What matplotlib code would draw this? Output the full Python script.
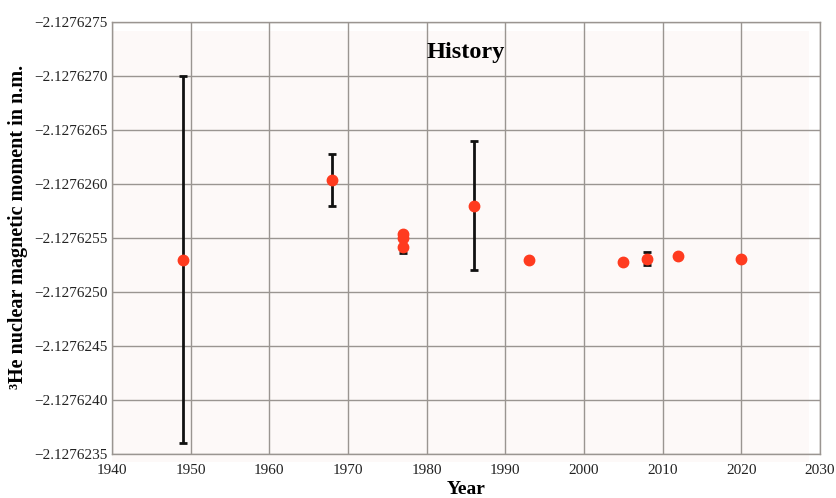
import matplotlib
matplotlib.use('Agg')
import matplotlib.pyplot as plt
from matplotlib.patches import Rectangle
from matplotlib.ticker import FuncFormatter, MultipleLocator

# measurement history of the 3He nuclear magnetic moment
years = [1949, 1968, 1977, 1977, 1977, 1986, 1993, 2005, 2008, 2012, 2020]
moments = [-2.1276253, -2.12762604, -2.12762554, -2.1276255, -2.12762542,
           -2.1276258, -2.1276253, -2.12762528, -2.12762531, -2.12762533,
           -2.12762531]
errors = [17e-7, 2.4e-7, 0, 0, 0.6e-7, 6.0e-7, 0, 0, 0.6e-7, 0, 0]

plt.rcParams['font.family'] = ['Liberation Serif', 'DejaVu Serif']

fig = plt.figure(figsize=(8.37, 4.98), dpi=100)
ax = fig.add_axes([112 / 837, 44 / 498, 708 / 837, 432 / 498])

# faint shaded plot area, slightly offset
bg = Rectangle((0, -0.018), 0.984, 0.997, transform=ax.transAxes,
               facecolor='#fdf9f8', edgecolor='none', zorder=0, clip_on=False)
ax.add_patch(bg)
ax.set_facecolor('none')

# error bars first, then markers on top
for x, y, e in zip(years, moments, errors):
    if e > 0:
        ax.errorbar(x, y, yerr=e, fmt='none', ecolor='#111111', elinewidth=2,
                    capsize=3, capthick=2, zorder=3)
ax.plot(years, moments, 'o', color='#ff3b1f', markersize=7.5, zorder=4)

ax.set_xlim(1940, 2030)
ax.set_ylim(-2.1276235, -2.1276275)
ax.xaxis.set_major_locator(MultipleLocator(10))
ax.yaxis.set_major_locator(MultipleLocator(5e-7))
ax.yaxis.set_major_formatter(FuncFormatter(lambda v, p: f"{v:.7f}".replace('-', '\u2212')))

ax.grid(True, color='#9a9591', linewidth=1)
ax.set_axisbelow(True)
for s in ax.spines.values():
    s.set_color('#9a9591')
    s.set_linewidth(1)
ax.tick_params(length=0, labelsize=11, colors='#222222')
ax.tick_params(axis='x', pad=7)
ax.tick_params(axis='y', pad=3)

ax.text(0.5, 0.93, 'History', transform=ax.transAxes, ha='center', va='center',
        fontsize=17.5, fontweight='bold')
ax.set_xlabel('Year', fontsize=14, fontweight='bold', labelpad=3)
ax.set_ylabel('\u00b3He nuclear magnetic moment in n.m.', fontsize=14.5,
              fontweight='bold')
ax.yaxis.set_label_coords(-0.118, 0.525)

fig.savefig('out.png', dpi=100)
